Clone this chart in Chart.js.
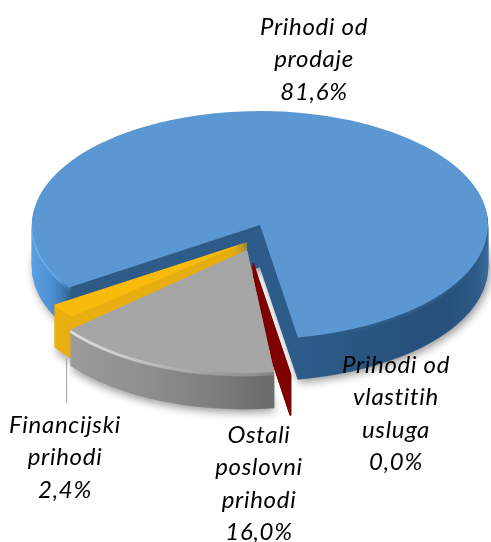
<!DOCTYPE html>
<html><head><meta charset="utf-8">
<style>html,body{margin:0;padding:0;background:#fff}#w{width:491px;height:542px;position:relative}#c{filter:blur(.45px)}</style>
<script src="https://cdn.jsdelivr.net/npm/chart.js@4/dist/chart.umd.min.js"></script>
</head><body><div id="w"><canvas id="c" width="491" height="542"></canvas></div>
<script>
// data
const categories = ['Prihodi od prodaje','Prihodi od vlastitih usluga','Ostali poslovni prihodi','Financijski prihodi'];
const values = [81.6, 0.04, 16.0, 2.4];
const labelLines = [['Prihodi od','prodaje'],['Prihodi od','vlastitih','usluga'],['Ostali','poslovni','prihodi'],['Financijski','prihodi']];
// styles
const faceColors = ['#5b97d2','#7f0000','#a6a6a6','#f9bb0b'];
const labelAnchors = [[314,35],[396,373],[259,443],[65,433]];
const lineGap = 32.4;
// per-slice projection: translate, linear part, extrusion depth
const proj = [
 {t:[260,225],m:[1,0,0,.5],depth:42},
 {t:[253,263],m:[1,0,0,.5],depth:40},
 {t:[247,250],m:[1,.014,-.045,.54],depth:36},
 {t:[247,242],m:[.96,-.026,-.078,.463],depth:42}
];
const wallStops = [
 [[0,'#5aa0e2'],[.04,'#4e90d2'],[.066,'#3f7cb9'],[.088,'#2e5a86'],[.585,'#2d5c8b'],[.7,'#2a5682'],[.9,'#27507b'],[.97,'#2b5885'],[1,'#3a6a9a']],
 [[0,'#7f0000'],[1,'#7f0000']],
 [[0,'#a0a0a0'],[.12,'#9b9b9b'],[.3,'#8e8e8e'],[.45,'#7e7e7e'],[.56,'#6c6c6c'],[1,'#666666']],
 [[0,'#eab010'],[1,'#e0a80e']]
];
// lighter rim just under the top face, as [stops, layer count]
const bevelStops = [
 [[0,'#6fb4f2'],[.06,'#5c9fdf'],[.09,'#2e5a86'],[1,'#2e5a86']],
 null,
 [[0,'#ececec'],[.11,'#e6e6e6'],[.25,'#c9c9c9'],[.4,'#a8a8a8'],[.56,'#8a8a8a'],[1,'#8a8a8a']],
 null
];
const bevelLayers = 3;
const drawOrder = [0,3,1,2];

const pie3d = {
 id:'pie3d',
 beforeDatasetsDraw(chart){
  const ctx = chart.ctx, arcs = chart.getDatasetMeta(0).data;
  for(const i of drawOrder){
   const arc = arcs[i], p = proj[i], R = arc.outerRadius;
   const place = (k)=>{ ctx.translate(p.t[0],p.t[1]+k); ctx.transform(p.m[0],p.m[1],p.m[2],p.m[3],0,0); ctx.translate(-arc.x,-arc.y); };
   const mk = (stops)=>{ const g = ctx.createLinearGradient(arc.x-R,0,arc.x+R,0); stops.forEach(s=>g.addColorStop(s[0],s[1])); return g; };
   const grad = mk(wallStops[i]);
   const bev = bevelStops[i] ? mk(bevelStops[i]) : null;
   const clone = (fill,border,bw)=>{ const a = Object.create(arc); a.options = Object.assign({},arc.options,{backgroundColor:fill,borderColor:border||fill,borderWidth:bw||0,offset:0,spacing:0}); return a; };
   for(let k=p.depth;k>=1;k--){
    ctx.save(); place(k);
    if(k===p.depth && i!==1){ ctx.shadowColor='rgba(0,0,0,.4)'; ctx.shadowBlur=8; ctx.shadowOffsetY=3; ctx.shadowOffsetX=i===0?2:0; }
    const fill = (bev && k<=bevelLayers) ? bev : grad;
    clone(fill,fill,i===1?1.5:0.5).draw(ctx);
    ctx.restore();
   }
   ctx.save(); place(0);
   clone(faceColors[i],faceColors[i],i===1?1.5:0).draw(ctx);
   ctx.restore();
  }
  // leader line
  ctx.save(); ctx.strokeStyle='#a6a6a6'; ctx.lineWidth=1; ctx.beginPath(); ctx.moveTo(66.5,358); ctx.lineTo(66.5,403); ctx.stroke(); ctx.restore();
  return false;
 },
 afterDraw(chart){
  const ctx = chart.ctx;
  ctx.save();
  ctx.font = 'italic 24px Lato';
  ctx.letterSpacing = '0.7px';
  ctx.fillStyle = '#000';
  ctx.textAlign = 'center';
  ctx.textBaseline = 'alphabetic';
  categories.forEach((c,i)=>{
   const lines = labelLines[i].concat(values[i].toFixed(1).replace('.',',')+'%');
   lines.forEach((t,j)=>ctx.fillText(t,labelAnchors[i][0],labelAnchors[i][1]+j*lineGap));
  });
  ctx.restore();
 }
};
new Chart(document.getElementById('c'),{
 type:'pie',
 data:{labels:categories,datasets:[{data:values,backgroundColor:faceColors,borderWidth:0}]},
 options:{responsive:false,animation:false,rotation:236.8,
  layout:{padding:{left:17.5,right:17.5,top:0,bottom:0}},
  plugins:{legend:{display:false},tooltip:{enabled:false}}},
 plugins:[pie3d]
});
</script></body></html>
